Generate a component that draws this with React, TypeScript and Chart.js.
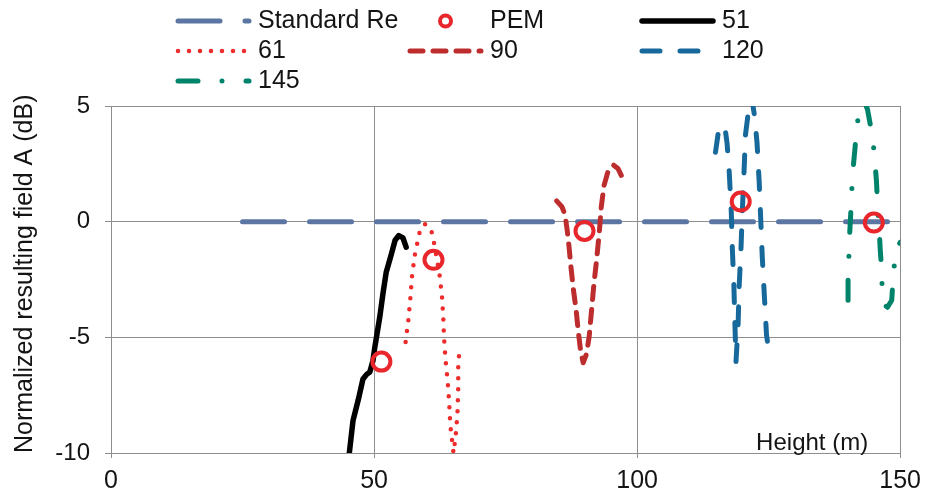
import { useEffect, useRef } from 'react';
import { Chart, registerables } from 'chart.js';

Chart.register(...registerables);

const FONT = "'Liberation Sans', Arial, Helvetica, sans-serif";
const TEXT = '#141414';
const GRID = '#8e8e8e';

// ---- data ----
const xTickValues = [0, 50, 100, 150];
const yTickValues = [-10, -5, 0, 5];
const xTitle = 'Height (m)';
const yTitle = 'Normalized resulting field A (dB)';

const stdX = [25, 150];
const stdY = [0, 0];

const pemX = [51.4, 61.3, 90, 119.7, 145];
const pemY = [-6.05, -1.65, -0.4, 0.87, -0.04];

const h51X = [45.3, 46.0, 47.0, 47.9, 48.6, 49.2, 49.8, 50.1, 50.6, 51.1, 51.7, 52.3, 53.3, 54.0, 54.7, 55.5, 56.1];
const h51Y = [-10.0, -8.6, -7.7, -6.8, -6.6, -6.5, -6.0, -5.5, -4.8, -4.1, -3.1, -2.2, -1.4, -0.8, -0.6, -0.7, -1.1];

const h61X = [56.0, 56.5, 56.9, 57.2, 57.7, 58.6, 59.6, 60.8, 61.3, 62.4, 62.9, 63.15, 63.3, 63.6, 64.0, 64.3, 64.5, 65.1, 65.5, 65.85, 66.0, 66.0, 66.15];
const h61Y = [-5.2, -4.3, -3.3, -2.4, -1.5, -0.5, -0.1, -0.3, -0.8, -2.2, -3.2, -4.1, -5.0, -6.0, -6.9, -7.9, -8.8, -10.0, -9.3, -8.3, -7.2, -6.3, -5.8];

const h90X = [84.7, 85.7, 86.3, 86.7, 87.05, 87.4, 87.9, 88.4, 88.8, 89.25, 89.75, 90.4, 90.9, 91.3, 91.75, 92.3, 92.8, 93.2, 93.7, 94.5, 95.5, 96.35, 97.0];
const h90Y = [0.9, 0.65, 0.3, -0.35, -1.05, -1.9, -2.95, -3.8, -4.7, -5.55, -6.1, -5.7, -4.95, -3.95, -2.8, -1.65, -0.5, 0.65, 1.55, 2.2, 2.45, 2.3, 2.0];

const h120X = [114.9, 115.4, 116.0, 116.8, 117.1, 117.5, 117.9, 118.1, 118.4, 118.6, 118.8, 119.2, 119.4, 119.75, 120.0, 120.3, 120.6, 121.1, 121.5, 121.9, 122.3, 122.8, 123.2, 123.5, 123.8, 124.2, 124.6, 124.85];
const h120Y = [3.0, 3.8, 4.2, 3.9, 3.4, 2.2, 0.45, -1.15, -2.8, -4.45, -6.05, -4.45, -2.8, -1.15, 0.45, 2.0, 3.75, 4.65, 5.4, 5.2, 4.6, 3.4, 1.75, 0.1, -1.55, -3.25, -4.9, -5.3];

const h145X = [140.1, 140.1, 140.25, 140.4, 140.6, 140.8, 141.1, 141.45, 141.8, 142.6, 143.2, 143.8, 144.8, 145.2, 145.5, 145.7, 146.0, 146.2, 146.5, 146.6, 147.0, 147.6, 148.4, 148.7, 149.2, 150.0];
const h145Y = [-3.4, -2.5, -1.55, -0.55, 0.3, 1.35, 2.4, 3.25, 4.25, 4.9, 5.2, 4.85, 3.6, 2.6, 1.75, 0.75, -0.25, -1.15, -2.15, -3.15, -3.6, -3.7, -3.4, -2.3, -1.2, -0.9];

const pts = (xs: number[], ys: number[]) => xs.map((x, i) => ({ x, y: ys[i] }));

// ---- legend layout ----
const LEG_X0 = 178;
const LEG_DX = 232;
const LEG_Y0 = 21;
const LEG_DY = 30;
const LEG_LEN = 71;
const LEG_TXT = 80;
const LEG_FONT = 25;

const gridLegend = {
  id: 'gridLegend',
  beforeDraw(chart: any) {
    const ctx = chart.ctx;
    ctx.save();
    ctx.fillStyle = '#ffffff';
    ctx.fillRect(0, 0, chart.width, chart.height);
    ctx.restore();
  },
  afterDraw(chart: any) {
    const ctx = chart.ctx;
    ctx.save();
    chart.data.datasets.forEach((ds: any, i: number) => {
      const col = i % 3;
      const row = Math.floor(i / 3);
      const x0 = LEG_X0 + col * LEG_DX;
      const y = LEG_Y0 + row * LEG_DY;
      if (ds.showLine === false) {
        ctx.setLineDash([]);
        ctx.beginPath();
        ctx.arc(x0 + LEG_LEN / 2, y, 5.5, 0, Math.PI * 2);
        ctx.lineWidth = 4;
        ctx.strokeStyle = ds.pointBorderColor;
        ctx.stroke();
      } else {
        ctx.setLineDash(ds.borderDash || []);
        ctx.lineCap = 'round';
        ctx.lineWidth = ds.borderWidth;
        ctx.strokeStyle = ds.borderColor;
        ctx.beginPath();
        ctx.moveTo(x0, y);
        ctx.lineTo(x0 + LEG_LEN, y);
        ctx.stroke();
      }
      ctx.setLineDash([]);
      ctx.fillStyle = TEXT;
      ctx.font = `${LEG_FONT}px ${FONT}`;
      ctx.textBaseline = 'middle';
      ctx.textAlign = 'left';
      ctx.fillText(ds.label, x0 + LEG_TXT, y);
    });
    const area = chart.chartArea;
    ctx.fillStyle = TEXT;
    ctx.font = `24px ${FONT}`;
    ctx.textAlign = 'right';
    ctx.textBaseline = 'alphabetic';
    ctx.fillText(xTitle, area.right - 32, area.bottom - 3);
    ctx.restore();
  },
};

const lineDs = (label: string, xs: number[], ys: number[], color: string, width: number, dash: number[], order: number) => ({
  label,
  data: pts(xs, ys),
  borderColor: color,
  backgroundColor: color,
  borderWidth: width,
  borderDash: dash,
  borderCapStyle: 'round',
  borderJoinStyle: 'round',
  pointRadius: 0,
  pointHoverRadius: 0,
  tension: 0,
  fill: false,
  clip: 0,
  order,
});

export default function App() {
  const ref = useRef<HTMLCanvasElement>(null);

  useEffect(() => {
    if (!ref.current) return;
    const chart = new Chart(ref.current, {
      type: 'line',
      data: {
        datasets: [
          lineDs('Standard Re', stdX, stdY, '#5b76a2', 5, [42, 25], 10) as any,
          {
            label: 'PEM',
            data: pts(pemX, pemY),
            showLine: false,
            pointStyle: 'circle',
            pointRadius: 9,
            pointBorderWidth: 4,
            pointBorderColor: '#e8262b',
            pointBackgroundColor: 'rgba(255,255,255,0)',
            borderColor: '#e8262b',
            backgroundColor: 'rgba(255,255,255,0)',
            order: 0,
          },
          lineDs('51', h51X, h51Y, '#000000', 5.5, [], 5) as any,
          lineDs('61', h61X, h61Y, '#ee2c2c', 4.5, [0, 11], 5) as any,
          lineDs('90', h90X, h90Y, '#be2d2e', 5, [13, 10], 5) as any,
          lineDs('120', h120X, h120Y, '#17699b', 5, [18, 20], 5) as any,
          lineDs('145', h145X, h145Y, '#00836b', 5, [20, 24, 0, 24], 5) as any,
        ],
      },
      options: {
        responsive: false,
        devicePixelRatio: 1,
        animation: false,
        events: [],
        layout: { padding: { top: 106, right: 23, left: 0, bottom: 0 } },
        plugins: {
          legend: { display: false },
          tooltip: { enabled: false },
        },
        scales: {
          x: {
            type: 'linear',
            min: 0,
            max: 150,
            afterBuildTicks: (s: any) => {
              s.ticks = xTickValues.map((v) => ({ value: v }));
            },
            afterFit: (s: any) => {
              s.height = 39;
            },
            grid: { color: GRID, lineWidth: 1, tickLength: 5, drawTicks: true },
            border: { display: true, color: GRID, width: 1 },
            ticks: {
              font: { family: FONT, size: 25 },
              color: TEXT,
              padding: 8,
              maxRotation: 0,
              autoSkip: false,
            },
          },
          y: {
            type: 'linear',
            min: -10,
            max: 5,
            afterBuildTicks: (s: any) => {
              s.ticks = yTickValues.map((v) => ({ value: v }));
            },
            afterFit: (s: any) => {
              s.width = 111;
            },
            grid: { color: GRID, lineWidth: 1, tickLength: 6, drawTicks: true },
            border: { display: true, color: GRID, width: 1 },
            ticks: {
              font: { family: FONT, size: 24 },
              color: TEXT,
              padding: 15,
              autoSkip: false,
            },
            title: {
              display: true,
              text: yTitle,
              align: 'start',
              color: TEXT,
              font: { family: FONT, size: 25 },
              padding: { top: 10, bottom: 0 },
            },
          },
        },
      },
      plugins: [gridLegend],
    } as any);
    return () => chart.destroy();
  }, []);

  return (
    <div style={{ position: 'fixed', left: 0, top: 0, width: 929, height: 492, background: '#fff' }}>
      <canvas ref={ref} width={929} height={492} style={{ display: 'block' }} />
    </div>
  );
}
